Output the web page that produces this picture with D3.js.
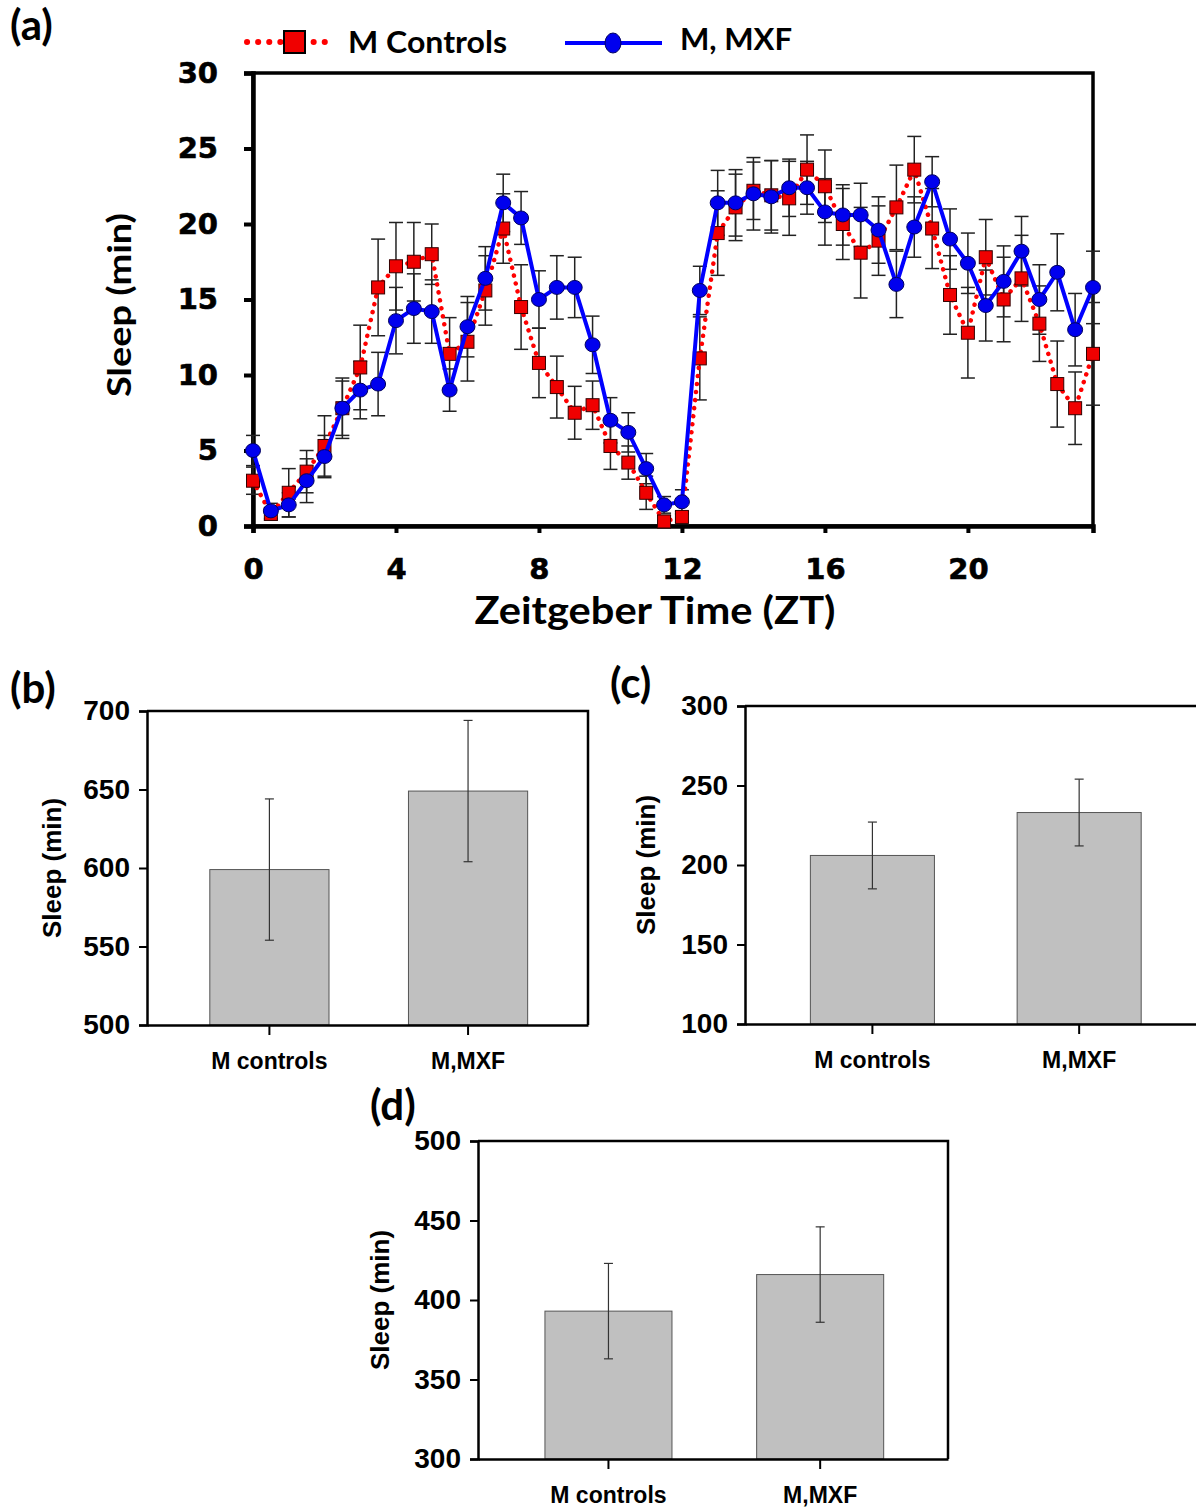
<!DOCTYPE html>
<html lang="en">
<head>
<meta charset="UTF-8">
<title>Sleep profiles</title>
<script src="https://d3js.org/d3.v7.min.js"></script>
<style>
  body { margin: 0; background: #fff; }
  svg { display: block; }
  .calibri { font-family: Lato, "Open Sans", sans-serif; font-weight: bold; }
  .heavy { font-family: "DejaVu Sans", sans-serif; font-weight: bold; }
  .arial { font-family: "Liberation Sans", Arial, sans-serif; font-weight: bold; }
</style>
</head>
<body>
<div id="chart"></div>
<script>
// ---- data, panel (a): sleep per 30 min bin over ZT ----
const zt = [0, 0.5, 1, 1.5, 2, 2.5, 3, 3.5, 4, 4.5, 5, 5.5, 6, 6.5, 7, 7.5,
            8, 8.5, 9, 9.5, 10, 10.5, 11, 11.5, 12, 12.5, 13, 13.5, 14, 14.5, 15, 15.5,
            16, 16.5, 17, 17.5, 18, 18.5, 19, 19.5, 20, 20.5, 21, 21.5, 22, 22.5, 23, 23.5];
const controls = [3.0, 0.8, 2.2, 3.6, 5.3, 7.8, 10.5, 15.8, 17.2, 17.5, 18.0, 11.4, 12.2, 15.6, 19.7, 14.5,
                  10.8, 9.2, 7.5, 8.0, 5.3, 4.2, 2.2, 0.3, 0.6, 11.1, 19.4, 21.1, 22.2, 21.9, 21.7, 23.6,
                  22.5, 20.0, 18.1, 18.9, 21.1, 23.6, 19.7, 15.3, 12.8, 17.8, 15.0, 16.4, 13.4, 9.4, 7.8, 11.4];
const controlsErr = [0.9, 0.4, 1.6, 1.4, 2.0, 2.0, 2.8, 3.2, 2.9, 2.6, 2.0, 2.4, 2.6, 2.3, 2.3, 2.8,
                     2.3, 2.05, 1.75, 1.6, 1.55, 1.1, 1.1, 0.4, 0.35, 2.75, 2.8, 2.2, 1.9, 2.3, 2.45, 2.3,
                     2.4, 2.35, 3.0, 2.3, 2.8, 2.2, 2.65, 2.6, 3.0, 2.5, 2.8, 2.85, 2.5, 2.85, 2.4, 3.4];
const mxf = [5.0, 1.0, 1.4, 3.0, 4.6, 7.8, 9.0, 9.4, 13.6, 14.4, 14.2, 9.0, 13.2, 16.4, 21.4, 20.4,
             15.0, 15.8, 15.8, 12.0, 7.0, 6.2, 3.8, 1.4, 1.6, 15.6, 21.4, 21.4, 22.0, 21.8, 22.4, 22.4,
             20.8, 20.6, 20.6, 19.6, 16.0, 19.8, 22.8, 19.0, 17.4, 14.6, 16.2, 18.2, 15.0, 16.8, 13.0, 15.8];
const mxfErr = [1.0, 0.5, 0.8, 1.45, 1.4, 1.8, 1.9, 2.1, 2.2, 2.3, 2.1, 1.4, 2.0, 2.1, 1.9, 1.75,
                1.9, 2.1, 2.0, 1.9, 1.5, 1.3, 1.0, 0.55, 0.8, 1.6, 2.15, 2.2, 2.4, 2.4, 1.9, 1.75,
                2.2, 2.0, 2.1, 2.2, 2.2, 2.0, 1.66, 2.0, 2.0, 2.35, 2.35, 2.3, 2.3, 2.55, 2.4, 2.4];
const xTicksA = [0, 4, 8, 12, 16, 20];
const yTicksA = [0, 5, 10, 15, 20, 25, 30];

// ---- data, panels (b)-(d): total sleep ----
const groups = ["M controls", "M,MXF"];
const totalB = [599, 649], totalBErr = [45, 45];
const totalC = [206, 233], totalCErr = [21, 21];
const totalD = [393, 416], totalDErr = [30, 30];
const yTicksB = [500, 550, 600, 650, 700];
const yTicksC = [100, 150, 200, 250, 300];
const yTicksD = [300, 350, 400, 450, 500];

const svg = d3.select("#chart").append("svg")
    .attr("width", 1196).attr("height", 1507);

// ================= panel (a) =================
const x = d3.scaleLinear().domain([0, 23.5]).range([253, 1093]);
const y = d3.scaleLinear().domain([0, 30]).range([526, 73]);
const a = svg.append("g");

// frame
a.append("rect")
    .attr("x", x(0)).attr("y", y(30))
    .attr("width", x(23.5) - x(0)).attr("height", y(0) - y(30))
    .attr("fill", "none").attr("stroke", "#000").attr("stroke-width", 3.5);

const yAxisA = a.append("g")
    .attr("transform", `translate(${x(0)},0)`)
    .call(d3.axisLeft(y).tickValues(yTicksA).tickSize(9).tickPadding(26));
const xAxisA = a.append("g")
    .attr("transform", `translate(0,${y(0)})`)
    .call(d3.axisBottom(x).tickValues(xTicksA).tickSize(7).tickPadding(25));
[yAxisA, xAxisA].forEach(g => {
  g.select(".domain").attr("stroke-width", 4.5);
  g.selectAll(".tick line").attr("stroke-width", 4);
  g.selectAll(".tick text").attr("class", "heavy").attr("font-size", 29).attr("fill", "#000")
      .attr("stroke", "#000").attr("stroke-width", 0.6);
});

a.append("text").attr("class", "calibri")
    .attr("x", 655).attr("y", 624).attr("text-anchor", "middle")
    .attr("font-size", 38).attr("textLength", 361).attr("lengthAdjust", "spacingAndGlyphs")
    .text("Zeitgeber Time (ZT)");
a.append("text").attr("class", "calibri")
    .attr("transform", "translate(131,305) rotate(-90)").attr("text-anchor", "middle")
    .attr("font-size", 33).attr("textLength", 184).attr("lengthAdjust", "spacingAndGlyphs")
    .text("Sleep (min)");

// error bars
function errBars(g, vals, errs, cap, color, width) {
  const eb = g.append("g").attr("stroke", color).attr("stroke-width", width);
  zt.forEach((t, i) => {
    const cx = x(t), lo = y(vals[i] - errs[i]), hi = y(vals[i] + errs[i]);
    eb.append("line").attr("x1", cx).attr("x2", cx).attr("y1", lo).attr("y2", hi);
    eb.append("line").attr("x1", cx - cap).attr("x2", cx + cap).attr("y1", lo).attr("y2", lo);
    eb.append("line").attr("x1", cx - cap).attr("x2", cx + cap).attr("y1", hi).attr("y2", hi);
  });
}
errBars(a, controls, controlsErr, 7, "#222", 1.5);
errBars(a, mxf, mxfErr, 7, "#222", 1.5);

const line = d3.line().x((d, i) => x(zt[i])).y(d => y(d));

a.append("path").datum(controls)
    .attr("d", line).attr("fill", "none")
    .attr("stroke", "#ff0000").attr("stroke-width", 4.5)
    .attr("stroke-dasharray", "0.1 8").attr("stroke-linecap", "round");
a.append("g").selectAll("rect").data(controls).join("rect")
    .attr("x", (d, i) => x(zt[i]) - 6.5).attr("y", d => y(d) - 6.5)
    .attr("width", 13).attr("height", 13)
    .attr("fill", "#f00000").attr("stroke", "#300").attr("stroke-width", 1);

a.append("path").datum(mxf)
    .attr("d", line).attr("fill", "none")
    .attr("stroke", "#0000ff").attr("stroke-width", 4);
a.append("g").selectAll("ellipse").data(mxf).join("ellipse")
    .attr("cx", (d, i) => x(zt[i])).attr("cy", d => y(d))
    .attr("rx", 7.5).attr("ry", 7)
    .attr("fill", "#0000ee").attr("stroke", "#000060").attr("stroke-width", 1);

// legend
const lg = svg.append("g");
lg.append("line").attr("x1", 247).attr("x2", 334).attr("y1", 42).attr("y2", 42)
    .attr("stroke", "#ff0000").attr("stroke-width", 6)
    .attr("stroke-dasharray", "0.1 11").attr("stroke-linecap", "round");
lg.append("rect").attr("x", 284).attr("y", 31).attr("width", 21).attr("height", 22)
    .attr("fill", "#f00000").attr("stroke", "#000").attr("stroke-width", 2);
lg.append("text").attr("class", "calibri").attr("x", 348).attr("y", 53)
    .attr("font-size", 31).attr("textLength", 159).attr("lengthAdjust", "spacingAndGlyphs")
    .text("M Controls");
lg.append("line").attr("x1", 565).attr("x2", 662).attr("y1", 43).attr("y2", 43)
    .attr("stroke", "#0000ff").attr("stroke-width", 4);
lg.append("ellipse").attr("cx", 613).attr("cy", 43).attr("rx", 8).attr("ry", 10)
    .attr("fill", "#0000ee").attr("stroke", "#000060").attr("stroke-width", 1);
lg.append("text").attr("class", "calibri").attr("x", 680).attr("y", 50)
    .attr("font-size", 31).attr("textLength", 112).attr("lengthAdjust", "spacingAndGlyphs")
    .text("M, MXF");

// panel letters
[["(a)", 10, 40], ["(b)", 10, 703], ["(c)", 610, 698], ["(d)", 370, 1120]].forEach(([t, tx, ty]) => {
  svg.append("text").attr("class", "calibri").attr("x", tx).attr("y", ty)
      .attr("font-size", 42).text(t);
});

// ================= bar panels =================
function barPanel(box, vals, errs, ticks, labelY) {
  const g = svg.append("g");
  const yb = d3.scaleLinear().domain([ticks[0], ticks[ticks.length - 1]]).range([box.bottom, box.top]);
  const xb = d3.scaleBand().domain(groups).range([box.left, box.right])
      .paddingInner(0.4).paddingOuter(0.31).align(0.51);

  g.selectAll("rect.bar").data(vals).join("rect").attr("class", "bar")
      .attr("x", (d, i) => xb(groups[i])).attr("width", xb.bandwidth())
      .attr("y", d => yb(d)).attr("height", d => yb(ticks[0]) - yb(d))
      .attr("fill", "#c0c0c0").attr("stroke", "#555").attr("stroke-width", 1);

  const eb = g.append("g").attr("stroke", "#333").attr("stroke-width", 1.2);
  vals.forEach((v, i) => {
    const cx = xb(groups[i]) + xb.bandwidth() / 2;
    const lo = yb(v - errs[i]), hi = yb(v + errs[i]);
    eb.append("line").attr("x1", cx).attr("x2", cx).attr("y1", lo).attr("y2", hi);
    [lo, hi].forEach(yy => eb.append("line")
        .attr("x1", cx - 4.5).attr("x2", cx + 4.5).attr("y1", yy).attr("y2", yy));
  });

  // frame (top and right)
  g.append("path")
      .attr("d", `M${box.left},${box.top}H${box.right}V${box.bottom}`)
      .attr("fill", "none").attr("stroke", "#000").attr("stroke-width", 2.5);

  const ya = g.append("g").attr("transform", `translate(${box.left},0)`)
      .call(d3.axisLeft(yb).tickValues(ticks).tickSize(8).tickPadding(9));
  const xa = g.append("g").attr("transform", `translate(0,${box.bottom})`)
      .call(d3.axisBottom(xb).tickSize(10).tickPadding(18).tickSizeOuter(0));
  [ya, xa].forEach(ax => {
    ax.select(".domain").attr("stroke-width", 2.5);
    ax.selectAll(".tick line").attr("stroke-width", 2);
  });
  ya.selectAll(".tick text").attr("class", "arial").attr("font-size", 28).attr("fill", "#000");
  xa.selectAll(".tick text").attr("class", "arial").attr("font-size", 23).attr("fill", "#000");

  g.append("text").attr("class", "arial")
      .attr("transform", `translate(${labelY},${(box.top + box.bottom) / 2}) rotate(-90)`)
      .attr("text-anchor", "middle").attr("font-size", 26)
      .text("Sleep (min)");
}

barPanel({left: 147, right: 588, top: 711, bottom: 1025}, totalB, totalBErr, yTicksB, 61);
barPanel({left: 745, right: 1204, top: 706, bottom: 1024}, totalC, totalCErr, yTicksC, 655);
barPanel({left: 478, right: 948, top: 1141, bottom: 1459}, totalD, totalDErr, yTicksD, 389);
</script>
</body>
</html>
